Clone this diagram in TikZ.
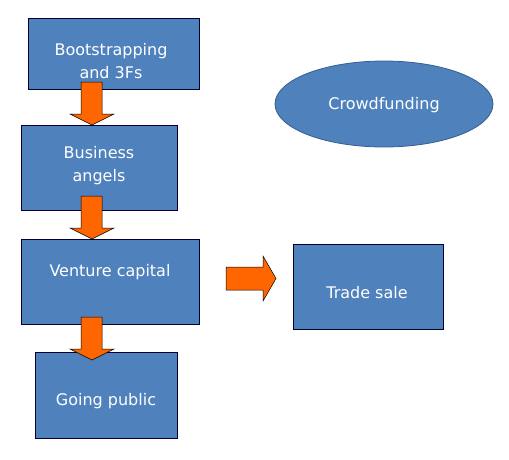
\documentclass[tikz,border=0pt]{standalone}
\usepackage{fontspec}
\setmainfont{DejaVu Sans}
\begin{document}
\begin{tikzpicture}[x=1pt,y=-1pt,
  box/.style={draw=black!80!blue,line width=0.8pt,fill=boxblue},
  lbl/.style={text=white,font=\fontsize{16}{23}\selectfont,align=center,inner sep=0pt},
  blk/.style={fill=arrorange,draw=black,line width=0.5pt,line join=miter}]
\definecolor{boxblue}{HTML}{4F81BD}
\definecolor{arrorange}{HTML}{FF6600}
\definecolor{ellborder}{HTML}{385D8A}
\useasboundingbox (0,0) rectangle (509,459);
% boxes
\draw[box] (28,18) rectangle (199,89) coordinate (b1);
\draw[box] (21,125) rectangle (177,210);
\draw[box] (21,239) rectangle (199,324);
\draw[box] (35,352) rectangle (177,438);
\draw[box] (293,244) rectangle (443,329);
\draw[fill=boxblue,draw=ellborder,line width=0.8pt] (384,104) ellipse [x radius=109,y radius=43];
% labels
\node[lbl] (t1) at (111,61) {Bootstrapping\\and 3Fs};
\node[lbl] (t2) at (99,166) {Business\\angels};
\node[lbl] (t3) at (110,272) {Venture capital};
\node[lbl] (t4) at (106,401) {Going public};
\node[lbl] (t5) at (384,105) {Crowdfunding};
\node[lbl] (t6) at (367,293) {Trade sale};
% block arrows (down)
\foreach \ys in {82,196,317}{
  \draw[blk] (81,\ys) -- (102,\ys) -- (102,\ys+32) -- (114,\ys+32) -- (92,\ys+43) -- (70,\ys+32) -- (81,\ys+32) -- cycle;
}
% right arrow
\draw[blk] (226,267) -- (263,267) -- (263,256) -- (276,278.5) -- (263,301) -- (263,290) -- (226,290) -- cycle;
\end{tikzpicture}
\end{document}
